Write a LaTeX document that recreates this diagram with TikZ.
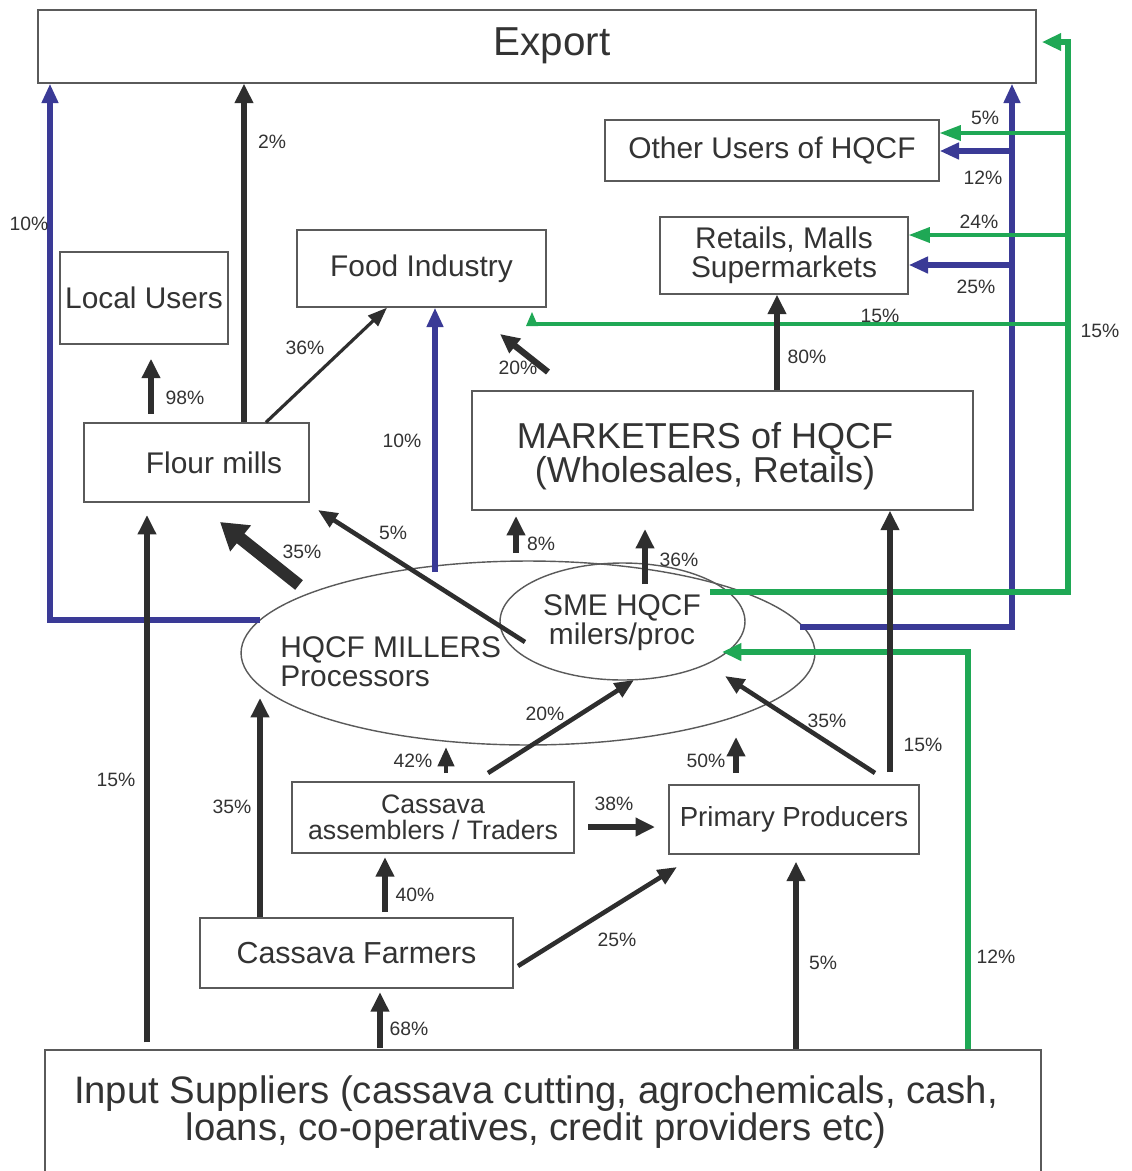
\documentclass[tikz,border=0pt]{standalone}
\usepackage{fontspec}
\setmainfont{Liberation Sans}
\usetikzlibrary{arrows.meta,shapes.geometric,calc}

\definecolor{ink}{HTML}{2E2E2E}
\definecolor{txt}{HTML}{333333}
\definecolor{navy}{HTML}{3A3A96}
\definecolor{leaf}{HTML}{1FA855}
\definecolor{frame}{HTML}{5A5A5A}

\begin{document}
\begin{tikzpicture}[x=0.02cm,y=-0.02cm,
  box/.style={draw=frame, line width=0.8pt, rectangle, inner sep=0pt, text=txt,
    font=\fontsize{17}{16.5}\selectfont, align=center},
  lbl/.style={text=txt, inner sep=0pt, align=center, font=\fontsize{17}{16.5}\selectfont},
  pct/.style={text=txt, inner sep=0pt, font=\fontsize{11}{13}\selectfont},
  flow/.style={draw=ink, line width=3.6pt, -{Triangle[length=11pt,width=10pt]}},
  flowmid/.style={draw=ink, line width=2.6pt, -{Triangle[length=11pt,width=9pt]}},
  flowthin/.style={draw=ink, line width=1.8pt, -{Triangle[length=11pt,width=8pt]}},
  flowbig/.style={draw=ink, line width=7pt, -{Triangle[length=15pt,width=18pt]}},
  blueflow/.style={draw=navy, line width=3.2pt, -{Triangle[length=11pt,width=9pt]}},
  greenflow/.style={draw=leaf, line width=3.2pt, -{Triangle[length=11pt,width=9.5pt]}},
  greenbranch/.style={draw=leaf, line width=2pt, -{Triangle[length=12pt,width=8.5pt]}},
]
\clip (0,0) rectangle (1132,1171);
\fill[white] (0,0) rectangle (1132,1171);

% ---- column helpers ----
\foreach \cx in {50,147,151,244,260,266,380,385,387,435,777,796,890,968,1012}
  \coordinate (c\cx) at (\cx,0);

% ---- boxes ----
\node[box, minimum width=19.96cm, minimum height=1.46cm] (export) at (537,46.5) {};
\node[lbl, font=\fontsize{23}{26}\selectfont] (exporttxt) at (552,46) {Export};
\node[box, minimum width=6.68cm, minimum height=1.22cm] (other) at (772,150.5) {Other Users of HQCF};
\node[box, minimum width=4.96cm, minimum height=1.54cm] (retail) at (784,255.5) {Retails, Malls\\Supermarkets};
\node[box, minimum width=4.98cm, minimum height=1.54cm] (food) at (421.5,268.5) {Food Industry};
\node[box, minimum width=3.36cm, minimum height=1.84cm] (local) at (144,298) {Local Users};
\node[box, minimum width=4.5cm, minimum height=1.58cm] (flour) at (196.5,462.5) {};
\node[lbl] (flourtxt) at (214,463) {Flour mills};
\node[box, minimum width=10.02cm, minimum height=2.38cm] (market) at (722.5,450.5) {};
\node[lbl, font=\fontsize{20.5}{19.3}\selectfont] (markettxt) at (705,456) {MARKETERS of HQCF\\(Wholesales, Retails)};
\node[box, minimum width=5.64cm, minimum height=1.42cm, font=\fontsize{15.2}{14.8}\selectfont] (assem) at (433,817.5) {Cassava\\assemblers / Traders};
\node[box, minimum width=5cm, minimum height=1.38cm, font=\fontsize{15.7}{15}\selectfont] (primary) at (794,819.5) {Primary Producers};
\node[box, minimum width=6.26cm, minimum height=1.4cm, font=\fontsize{17.3}{17}\selectfont] (farmers) at (356.5,953) {Cassava Farmers};
\node[box, minimum width=19.92cm, minimum height=2.8cm] (input) at (543,1120) {};
\node[lbl, font=\fontsize{21.8}{21}\selectfont] (inputtxt) at (536,1112)
  {Input Suppliers (cassava cutting, agrochemicals, cash,\\loans, co-operatives, credit providers etc)};

% ---- processors ----
\node[ellipse, draw=frame, line width=0.8pt, minimum width=11.48cm, minimum height=3.68cm, inner sep=0pt] (millers) at (528,653) {};
\node[ellipse, draw=frame, line width=0.8pt, minimum width=4.9cm, minimum height=2.34cm, inner sep=0pt] (sme) at (622.5,621.5) {};
\node[lbl, align=left, anchor=west] (millerstxt) at (280,662) {HQCF MILLERS\\Processors};
\node[lbl] (smetxt) at (622,623) {SME HQCF\\milers/proc};

% ---- free ends ----
\coordinate (bL) at (260,620);
\coordinate (bM) at (435,572);
\coordinate (bR) at (800,627);
\coordinate (jb1) at (1012,151);
\coordinate (jb2) at (1012,265);
\coordinate (gS) at (710,592);
\coordinate (gT) at (1068,42);
\coordinate (jg1) at (1068,133);
\coordinate (jg2) at (1068,235);
\coordinate (jg3) at (1068,324);
\coordinate (gEnd) at (532,324);
\coordinate (gSME) at (722,652);

% ---- blue flows ----
\draw[blueflow] (bL) -| (export.south -| c50);
\draw[blueflow] (bM) -- (food.south -| c435);
\draw[blueflow] (bR) -| (export.south -| c1012);
\draw[blueflow] (jb1) -- (jb1 -| other.east);
\draw[blueflow] (jb2) -- (jb2 -| retail.east);

% ---- green flows ----
\draw[greenflow, shorten >=3pt] (gS) -| (gT) -- (gT -| export.east);
\draw[greenbranch] (jg1) -- (jg1 -| other.east);
\draw[greenbranch] (jg2) -- (jg2 -| retail.east);
\draw[draw=leaf, line width=2pt] (jg3) -- (gEnd);
\fill[leaf] (gEnd) ++(-6,2) -- ++(12,0) -- ++(-6,-14) -- cycle;
\draw[greenflow] (input.north -| c968) |- (gSME);

% ---- black flows ----
\draw[flow] (flour.north -| c244) -- (export.south -| c244);
\draw[flow, shorten <=5pt, shorten >=8pt] (flour.north -| c151) -- (local.south -| c151);
\draw[flowthin] (flour.north -| c266) -- (food.south -| c387);
\coordinate (a20s) at (548,372); \coordinate (a20e) at (500,334);
\draw[flow] (a20s) -- (a20e);
\draw[flow] (market.north -| c777) -- (retail.south -| c777);
\coordinate (a35s) at (299,585); \coordinate (a35e) at (220,522);
\draw[flowbig] (a35s) -- (a35e);
\coordinate (a5s) at (525,642); \coordinate (a5e) at (318,510);
\draw[flowmid] (a5s) -- (a5e);
\coordinate (a8s) at (516,553); \coordinate (a8e) at (516,516);
\draw[flow] (a8s) -- (a8e);
\coordinate (a36s) at (645,584); \coordinate (a36e) at (645,529);
\draw[flow] (a36s) -- (a36e);
\draw[flow, shorten <=4pt, shorten >=7pt] (input.north -| c147) -- (flour.south -| c147);
\coordinate (a35b) at (260,698);
\draw[flow] (farmers.north -| c260) -- (a35b);
\coordinate (a42s) at (446,773); \coordinate (a42e) at (446,747);
\draw[flowmid] (a42s) -- (a42e);
\coordinate (a20bs) at (488,773); \coordinate (a20be) at (634,680);
\draw[flowmid] (a20bs) -- (a20be);
\coordinate (a50s) at (736,773); \coordinate (a50e) at (736,737);
\draw[flow] (a50s) -- (a50e);
\coordinate (a35cs) at (875,773); \coordinate (a35ce) at (725,676);
\draw[flowmid] (a35cs) -- (a35ce);
\draw[flow, shorten <=7pt] (primary.north -| c890) -- (market.south -| c890);
\coordinate (a38s) at (588,827); \coordinate (a38e) at (655,827);
\draw[flow] (a38s) -- (a38e);
\draw[flow, shorten <=3pt, shorten >=2pt] (farmers.north -| c385) -- (assem.south -| c385);
\coordinate (a25s) at (518,966); \coordinate (a25e) at (677,867);
\draw[flowmid] (a25s) -- (a25e);
\draw[flow, shorten >=4pt] (input.north -| c796) -- (primary.south -| c796);
\draw[flow, shorten <=1pt, shorten >=2pt] (input.north -| c380) -- (farmers.south -| c380);

% ---- shares ----
\node[pct] at (29,224) {10\%};
\node[pct] at (272,142) {2\%};
\node[pct] at (185,398) {98\%};
\node[pct] at (305,348) {36\%};
\node[pct] at (518,368) {20\%};
\node[pct] at (807,357) {80\%};
\node[pct] at (880,316) {15\%};
\node[pct] at (1100,331) {15\%};
\node[pct] at (985,118) {5\%};
\node[pct] at (983,178) {12\%};
\node[pct] at (979,222) {24\%};
\node[pct] at (976,287) {25\%};
\node[pct] at (402,441) {10\%};
\node[pct] at (302,552) {35\%};
\node[pct] at (393,533) {5\%};
\node[pct] at (541,544) {8\%};
\node[pct] at (679,560) {36\%};
\node[pct] at (116,780) {15\%};
\node[pct] at (232,807) {35\%};
\node[pct] at (413,761) {42\%};
\node[pct] at (545,714) {20\%};
\node[pct] at (706,761) {50\%};
\node[pct] at (827,721) {35\%};
\node[pct] at (923,745) {15\%};
\node[pct] at (614,804) {38\%};
\node[pct] at (415,895) {40\%};
\node[pct] at (617,940) {25\%};
\node[pct] at (823,963) {5\%};
\node[pct] at (996,957) {12\%};
\node[pct] at (409,1029) {68\%};
\end{tikzpicture}
\end{document}
